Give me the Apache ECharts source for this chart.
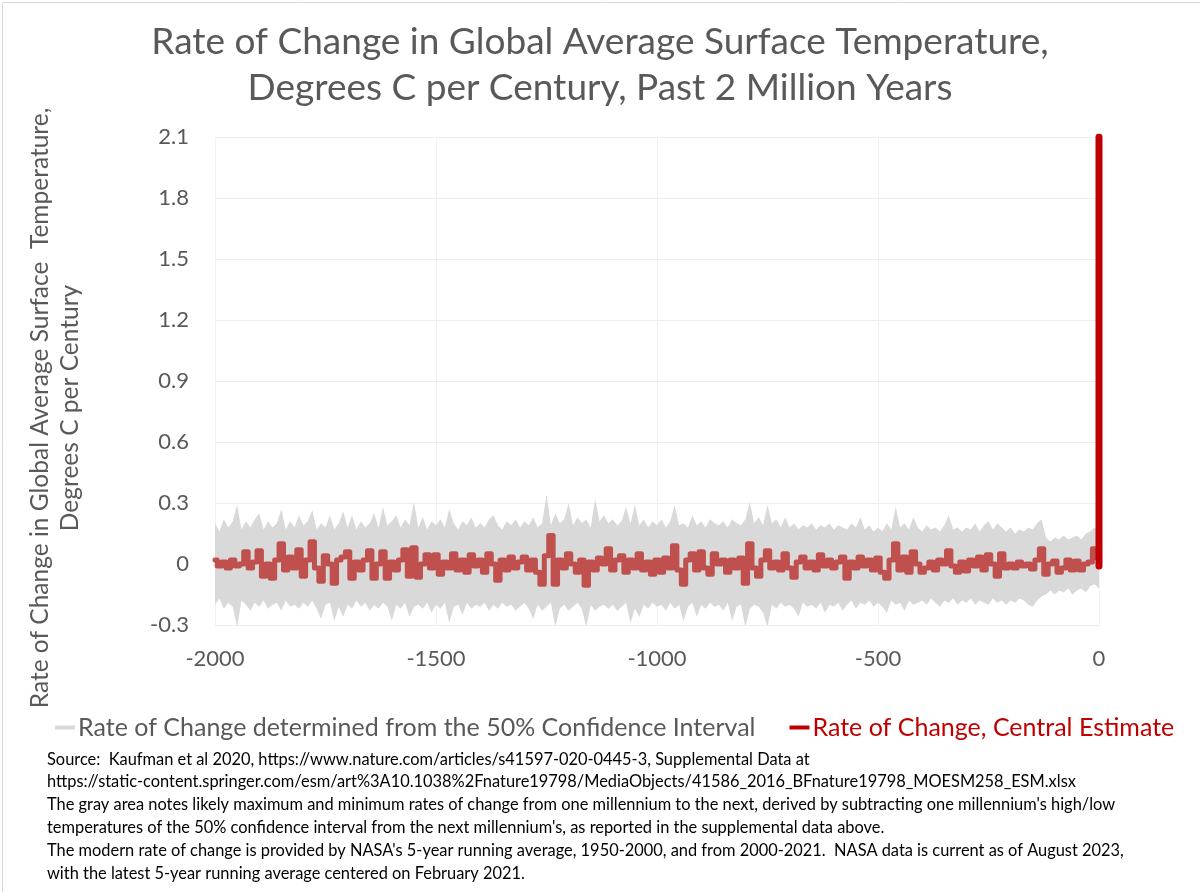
<!DOCTYPE html>
<html>
<head>
<meta charset="utf-8">
<script src="https://cdn.jsdelivr.net/npm/echarts@6/dist/echarts.min.js"></script>
<style>
  html, body { margin: 0; padding: 0; background: #fff; }
  #graph { width: 1200px; height: 892px; }
</style>
</head>
<body>
<div id="graph"></div>
<script>
// x 轴：千年，从 -2000 到 0，每 10 千年一个点
var years = [
  -2000,-1990,-1980,-1970,-1960,-1950,-1940,-1930,-1920,-1910,
  -1900,-1890,-1880,-1870,-1860,-1850,-1840,-1830,-1820,-1810,
  -1800,-1790,-1780,-1770,-1760,-1750,-1740,-1730,-1720,-1710,
  -1700,-1690,-1680,-1670,-1660,-1650,-1640,-1630,-1620,-1610,
  -1600,-1590,-1580,-1570,-1560,-1550,-1540,-1530,-1520,-1510,
  -1500,-1490,-1480,-1470,-1460,-1450,-1440,-1430,-1420,-1410,
  -1400,-1390,-1380,-1370,-1360,-1350,-1340,-1330,-1320,-1310,
  -1300,-1290,-1280,-1270,-1260,-1250,-1240,-1230,-1220,-1210,
  -1200,-1190,-1180,-1170,-1160,-1150,-1140,-1130,-1120,-1110,
  -1100,-1090,-1080,-1070,-1060,-1050,-1040,-1030,-1020,-1010,
  -1000,-990,-980,-970,-960,-950,-940,-930,-920,-910,
  -900,-890,-880,-870,-860,-850,-840,-830,-820,-810,
  -800,-790,-780,-770,-760,-750,-740,-730,-720,-710,
  -700,-690,-680,-670,-660,-650,-640,-630,-620,-610,
  -600,-590,-580,-570,-560,-550,-540,-530,-520,-510,
  -500,-490,-480,-470,-460,-450,-440,-430,-420,-410,
  -400,-390,-380,-370,-360,-350,-340,-330,-320,-310,
  -300,-290,-280,-270,-260,-250,-240,-230,-220,-210,
  -200,-190,-180,-170,-160,-150,-140,-130,-120,-110,
  -100,-90,-80,-70,-60,-50,-40,-30,-20,-10,
  0
];
// 中心估计
var central = [
  0.02,-0.01,0.01,-0.02,0.02,-0.01,0.0,0.06,-0.02,0.01,
  0.065,-0.06,0.0,-0.07,0.02,0.10,-0.03,0.035,-0.02,0.07,
  -0.06,0.02,0.11,-0.02,-0.085,0.04,0.0,-0.095,0.02,0.035,
  0.06,-0.07,0.01,-0.03,0.02,0.065,-0.07,0.0,0.06,-0.07,
  0.01,-0.03,0.02,0.07,-0.06,0.08,-0.065,0.0,0.045,-0.02,
  0.045,-0.05,0.01,-0.02,0.05,-0.03,0.02,-0.04,0.045,-0.01,
  0.02,-0.04,0.05,0.0,-0.08,0.02,-0.03,0.035,-0.02,0.01,
  0.035,-0.03,0.02,-0.04,-0.10,0.04,0.14,-0.10,0.02,-0.02,
  0.05,0.0,-0.04,0.02,-0.105,0.01,-0.03,0.03,0.0,0.075,
  -0.03,0.02,0.04,-0.04,0.02,-0.02,0.05,-0.03,0.01,-0.05,
  0.02,-0.04,0.03,-0.02,0.09,-0.03,-0.10,0.02,0.05,-0.03,
  0.06,-0.02,-0.05,0.05,0.0,0.02,-0.04,0.02,-0.02,0.03,
  -0.095,0.10,-0.02,-0.06,0.02,0.065,-0.02,0.01,-0.03,0.05,
  -0.02,-0.065,0.01,0.035,-0.02,0.01,-0.03,0.045,-0.01,0.02,
  -0.02,0.01,0.035,-0.07,0.01,-0.02,0.035,-0.01,0.02,-0.03,
  0.03,-0.04,-0.07,0.02,0.10,-0.03,0.035,-0.04,0.06,0.0,
  -0.04,-0.02,0.01,-0.03,0.02,0.0,0.065,-0.01,-0.04,0.01,
  -0.035,0.02,-0.01,0.035,-0.03,0.045,0.0,-0.06,0.05,-0.02,
  0.0,-0.02,0.01,-0.01,0.0,-0.025,0.02,0.075,-0.05,0.0,
  0.015,-0.04,-0.02,0.02,-0.03,0.015,-0.03,0.0,0.01,0.075,
  0.03
];
// 50% 置信区间上限
var upper = [
  0.20,0.16,0.22,0.18,0.21,0.29,0.17,0.21,0.18,0.22,
  0.25,0.17,0.21,0.18,0.20,0.27,0.17,0.21,0.18,0.24,
  0.19,0.21,0.265,0.17,0.20,0.18,0.24,0.17,0.20,0.26,
  0.18,0.24,0.17,0.21,0.18,0.20,0.25,0.18,0.28,0.19,
  0.21,0.24,0.18,0.22,0.19,0.305,0.18,0.23,0.17,0.21,
  0.19,0.22,0.18,0.27,0.20,0.17,0.21,0.19,0.23,0.18,
  0.20,0.18,0.22,0.24,0.19,0.17,0.21,0.19,0.22,0.18,
  0.21,0.19,0.23,0.18,0.20,0.34,0.19,0.25,0.20,0.22,
  0.30,0.19,0.23,0.20,0.22,0.18,0.32,0.21,0.24,0.20,
  0.22,0.19,0.21,0.28,0.20,0.29,0.19,0.22,0.18,0.21,
  0.19,0.22,0.18,0.21,0.29,0.19,0.20,0.18,0.24,0.19,
  0.21,0.18,0.22,0.20,0.19,0.21,0.18,0.22,0.20,0.19,
  0.22,0.305,0.20,0.23,0.19,0.29,0.20,0.22,0.18,0.23,
  0.18,0.20,0.17,0.19,0.18,0.20,0.17,0.19,0.18,0.20,
  0.17,0.19,0.18,0.17,0.20,0.18,0.23,0.17,0.19,0.16,
  0.18,0.16,0.20,0.17,0.28,0.18,0.20,0.17,0.23,0.18,
  0.16,0.19,0.17,0.18,0.16,0.19,0.24,0.17,0.18,0.16,
  0.18,0.17,0.20,0.16,0.19,0.21,0.17,0.20,0.18,0.16,
  0.18,0.15,0.17,0.16,0.18,0.17,0.20,0.22,0.13,0.11,
  0.13,0.12,0.14,0.12,0.13,0.14,0.12,0.15,0.16,0.18,
  0.16
];
// 50% 置信区间下限
var lower = [
  -0.20,-0.17,-0.22,-0.19,-0.21,-0.31,-0.18,-0.20,-0.23,-0.19,
  -0.21,-0.18,-0.22,-0.20,-0.19,-0.23,-0.18,-0.21,-0.20,-0.22,
  -0.19,-0.21,-0.18,-0.22,-0.27,-0.20,-0.19,-0.28,-0.21,-0.26,
  -0.20,-0.22,-0.18,-0.21,-0.19,-0.23,-0.20,-0.22,-0.19,-0.21,
  -0.28,-0.20,-0.22,-0.19,-0.26,-0.21,-0.20,-0.22,-0.19,-0.24,
  -0.20,-0.22,-0.19,-0.29,-0.21,-0.20,-0.25,-0.19,-0.22,-0.20,
  -0.21,-0.19,-0.23,-0.20,-0.22,-0.19,-0.21,-0.20,-0.23,-0.21,
  -0.19,-0.22,-0.27,-0.20,-0.23,-0.21,-0.19,-0.31,-0.22,-0.20,
  -0.23,-0.21,-0.19,-0.22,-0.31,-0.20,-0.23,-0.21,-0.20,-0.22,
  -0.20,-0.23,-0.21,-0.19,-0.29,-0.22,-0.26,-0.20,-0.22,-0.19,
  -0.21,-0.20,-0.23,-0.19,-0.22,-0.20,-0.28,-0.21,-0.19,-0.26,
  -0.20,-0.22,-0.19,-0.21,-0.20,-0.23,-0.19,-0.28,-0.21,-0.20,
  -0.31,-0.22,-0.20,-0.21,-0.24,-0.31,-0.20,-0.22,-0.19,-0.21,
  -0.20,-0.22,-0.26,-0.19,-0.21,-0.20,-0.22,-0.19,-0.24,-0.20,
  -0.21,-0.19,-0.23,-0.20,-0.18,-0.22,-0.19,-0.20,-0.18,-0.21,
  -0.19,-0.21,-0.24,-0.18,-0.20,-0.19,-0.23,-0.18,-0.20,-0.19,
  -0.18,-0.20,-0.17,-0.19,-0.21,-0.18,-0.19,-0.17,-0.20,-0.18,
  -0.19,-0.17,-0.20,-0.18,-0.19,-0.20,-0.17,-0.19,-0.18,-0.20,
  -0.18,-0.19,-0.17,-0.18,-0.20,-0.21,-0.18,-0.16,-0.15,-0.13,
  -0.15,-0.13,-0.14,-0.12,-0.15,-0.13,-0.12,-0.14,-0.11,-0.10,
  -0.12
];
// 现代 NASA 数据（竖直尖峰）
var modernYears = [0, 0];
var modernRate = [-0.01, 2.1];

var yTicks = [-0.3, 0, 0.3, 0.6, 0.9, 1.2, 1.5, 1.8, 2.1];
var bandName = "Rate of Change determined from the 50% Confidence Interval";
var centralName = "Rate of Change, Central Estimate";
var titleText = "Rate of Change in Global Average Surface Temperature,\nDegrees C per Century, Past 2 Million Years";
var yName = "Rate of Change in Global Average Surface  Temperature,\nDegrees C per Century";
var sourceText = [
  "Source:  Kaufman et al 2020, https://www.nature.com/articles/s41597-020-0445-3, Supplemental Data at",
  "https://static-content.springer.com/esm/art%3A10.1038%2Fnature19798/MediaObjects/41586_2016_BFnature19798_MOESM258_ESM.xlsx",
  "The gray area notes likely maximum and minimum rates of change from one millennium to the next, derived by subtracting one millennium's high/low",
  "temperatures of the 50% confidence interval from the next millennium's, as reported in the supplemental data above.",
  "The modern rate of change is provided by NASA's 5-year running average, 1950-2000, and from 2000-2021.  NASA data is current as of August 2023,",
  "with the latest 5-year running average centered on February 2021."
];

// 灰色带：数值放第 0 维，这样堆叠作用在 y 上
var lowData = [], bandData = [], centralData = [], modernData = [];
for (var i = 0; i < years.length; i++) {
  lowData.push([lower[i], years[i]]);
  bandData.push([+(upper[i] - lower[i]).toFixed(3), years[i]]);
  centralData.push([years[i], central[i]]);
}
for (var j = 0; j < modernYears.length; j++) {
  modernData.push([modernYears[j], modernRate[j]]);
}

var FONT = "Lato";
var myChart = echarts.init(document.getElementById('graph'));
var option = {
  animation: false,
  backgroundColor: "#fff",
  textStyle: { fontFamily: FONT },
  title: {
    text: titleText,
    left: "center",
    top: 14,
    textStyle: { fontFamily: FONT, fontSize: 37, fontWeight: "normal", color: "#595959", lineHeight: 46 }
  },
  grid: { left: 215, right: 101, top: 137, bottom: 267, containLabel: false },
  legend: {
    left: 50,
    top: 710,
    icon: "rect",
    itemWidth: 20,
    itemHeight: 4,
    itemGap: 34,
    textStyle: { fontFamily: FONT, fontSize: 25, color: "#595959", padding: [0, 0, 0, -2] },
    data: [
      { name: "Rate of Change determined from the 50% Confidence Interval", itemStyle: { color: "#D9D9D9" }, textStyle: { color: "#595959" } },
      { name: "Rate of Change, Central Estimate", itemStyle: { color: "#C00000" }, textStyle: { color: "#C00000" } }
    ]
  },
  xAxis: {
    type: "value",
    min: -2000,
    max: 0,
    interval: 500,
    axisLine: { show: false },
    axisTick: { show: false },
    splitLine: { show: true, lineStyle: { color: "#F2F2F2", width: 1 } },
    axisLabel: {
      fontFamily: FONT, fontSize: 22, color: "#595959", margin: 23,
      formatter: function (v) { return String(v); }
    }
  },
  yAxis: {
    type: "value",
    min: yTicks[0],
    max: yTicks[yTicks.length - 1],
    interval: 0.3,
    axisLine: { show: false },
    axisTick: { show: false },
    splitLine: { lineStyle: { color: "#EDEDED", width: 1 } },
    axisLabel: {
      fontFamily: FONT, fontSize: 22, color: "#595959", margin: 26,
      formatter: function (v) { return String(+v.toFixed(1)); }
    }
  },
  graphic: [
    {
      type: "rect", left: 0, top: 0, silent: true,
      shape: { x: 0.5, y: 0.5, width: 1199, height: 891 },
      style: { fill: "none", stroke: "#D9D9D9", lineWidth: 1 }
    },
    {
      type: "text", x: 55, y: 408, rotation: Math.PI / 2,
      style: {
        text: yName, fontFamily: FONT, fontSize: 24.5, fill: "#595959",
        align: "center", verticalAlign: "middle", lineHeight: 30
      }
    },
    {
      type: "text", left: 47, top: 748,
      style: {
        text: sourceText.join("\n"), fontFamily: FONT, fontSize: 16.4,
        fill: "#000", lineHeight: 22.8
      }
    }
  ],
  series: [
    {
      name: "lower",
      type: "line",
      data: lowData,
      encode: { x: 1, y: 0 },
      stack: "band",
      stackStrategy: "all",
      showSymbol: false,
      lineStyle: { width: 0, opacity: 0 },
      silent: true,
      z: 1
    },
    {
      name: bandName,
      type: "line",
      data: bandData,
      encode: { x: 1, y: 0 },
      stack: "band",
      stackStrategy: "all",
      showSymbol: false,
      lineStyle: { width: 0, color: "#D9D9D9" },
      itemStyle: { color: "#D9D9D9" },
      areaStyle: { color: "#D9D9D9", opacity: 1 },
      z: 2
    },
    {
      name: centralName,
      type: "line",
      data: centralData,
      step: "middle",
      showSymbol: false,
      lineStyle: { width: 5, color: "#C0504D", join: "round", cap: "round" },
      itemStyle: { color: "#C0504D" },
      z: 3
    },
    {
      name: "modern",
      type: "line",
      data: modernData,
      showSymbol: false,
      lineStyle: { width: 7, color: "#C00000", cap: "round" },
      itemStyle: { color: "#C00000" },
      z: 4
    }
  ]
};
myChart.setOption(option);
window.addEventListener("resize", function () {
  myChart.resize();
});
</script>
</body>
</html>
